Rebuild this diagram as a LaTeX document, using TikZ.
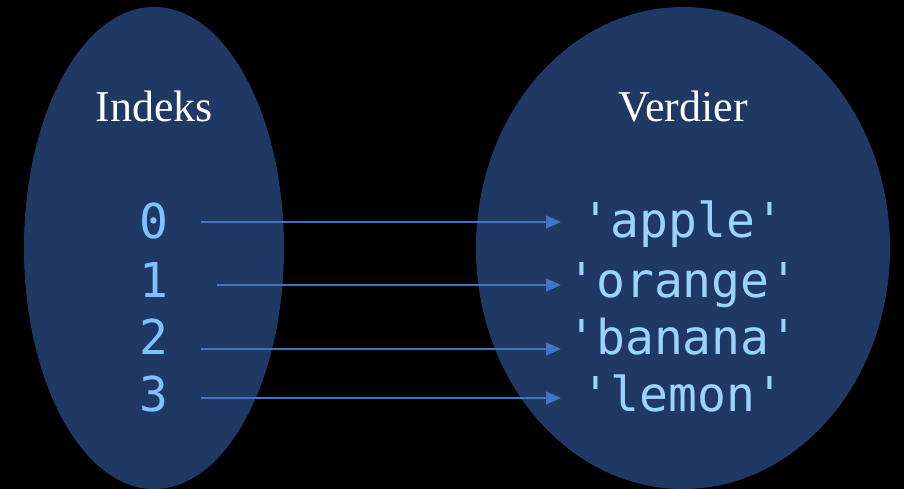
\documentclass[tikz,border=0pt]{standalone}
\usepackage{fontspec}
\setmainfont{Liberation Serif}
\setmonofont{DejaVu Sans Mono}
\usetikzlibrary{arrows.meta, positioning, shapes.geometric}

\definecolor{setfill}{HTML}{203864}
\definecolor{idxblue}{HTML}{80C2FF}
\definecolor{valblue}{HTML}{9CD2FF}
\definecolor{linkblue}{HTML}{4472C4}

\begin{document}
\begin{tikzpicture}[x=1pt, y=-1pt,
    set/.style={ellipse, fill=setfill, inner sep=0pt},
    title/.style={anchor=base, text=white, font=\fontsize{44pt}{48pt}\selectfont},
    idx/.style={anchor=base, inner sep=0pt, text=idxblue,
      font=\ttfamily\fontsize{48pt}{52pt}\selectfont},
    val/.style={anchor=base, inner sep=0pt, text=valblue,
      font=\ttfamily\fontsize{48pt}{52pt}\selectfont},
    link/.style={line width=1.3pt, linkblue,
      -{Triangle[length=15pt, width=13pt]}} ]
    % Background
    \fill[black] (0,0) rectangle (904,489);
    \useasboundingbox (0,0) rectangle (904,489);

    % The two sets
    \node[set, minimum width=260pt, minimum height=482pt] (indexset) at (154,248) {};
    \node[set, minimum width=414pt, minimum height=482pt] (valueset) at (683,248) {};

    % Set titles
    \node[title] (indexlabel) at (154,122) {Indeks};
    \node[title] (valuelabel) at (683,122) {Verdier};

    % Indices and values
    \foreach \k/\yb in {0/238, 1/297, 2/354, 3/411}
      \node[idx] (i\k) at (154,\yb) {\k};
    \foreach \k/\v/\yb in {0/apple/237, 1/orange/297, 2/banana/354, 3/lemon/411}
      \node[val] (v\k) at (683,\yb) {'\v'};

    % Arrows index -> value
    \coordinate (tips) at (561,0);
    \foreach \k/\dy/\gap in {0/16/32, 1/12/48, 2/5/32, 3/13/32}
      \draw[link] ([xshift=\gap pt, yshift=\dy pt]i\k.base east)
        -- ([yshift=\dy pt]i\k.base -| tips);
\end{tikzpicture}
\end{document}
